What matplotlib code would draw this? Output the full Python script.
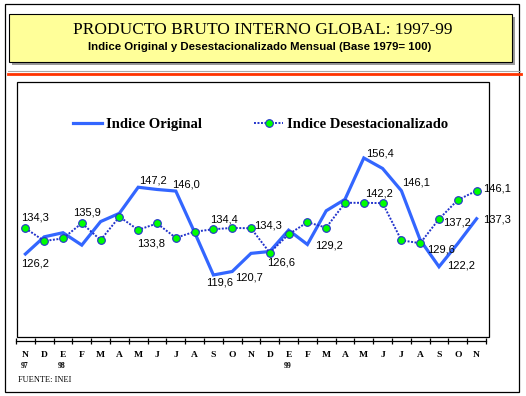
import matplotlib
matplotlib.use("Agg")
import matplotlib.pyplot as plt
from matplotlib.patches import Rectangle
from matplotlib.lines import Line2D

# meses nov-97 .. nov-99
meses = ["N", "D", "E", "F", "M", "A", "M", "J", "J", "A", "S", "O",
         "N", "D", "E", "F", "M", "A", "M", "J", "J", "A", "S", "O", "N"]
anios = {0: "97", 2: "98", 14: "99"}

original = [126.2, 131.6, 132.9, 129.0, 136.4, 139.0, 147.2, 146.5, 146.0,
            133.0, 119.6, 120.7, 126.4, 127.0, 133.7, 129.2, 139.8, 143.4,
            156.4, 153.1, 146.1, 130.6, 122.2, 129.5, 137.3]
desest = [134.3, 130.3, 131.1, 135.9, 130.6, 137.9, 133.8, 135.8, 131.3,
          133.2, 134.0, 134.4, 134.3, 126.6, 132.4, 136.2, 134.5, 142.3,
          142.3, 142.2, 130.5, 129.6, 137.2, 143.2, 146.1]

# etiquetas: (indice, dx, dy) en pixeles
etq_orig = [(0, 10, -9), (6, 15, 7), (8, 10, 7), (10, 6, -8), (11, 17, -6),
            (15, 22, -1), (18, 16, 4), (20, 15, 8), (22, 22, 1), (24, 20, -1)]
etq_des = [(0, 10, 11), (3, 5, 11), (6, 13, -14), (11, -8, 8), (12, 17, 3),
           (13, 11, -10), (19, -4, 10), (21, 21, -6), (22, 18, -3), (24, 20, 2)]

W, H = 526, 396
fig = plt.figure(figsize=(W / 100, H / 100), dpi=100)


def fx(x):
    return x / W


def fy(y):
    return 1 - y / H


def rect(x0, y0, x1, y1, **kw):
    fig.patches.append(Rectangle((fx(x0), fy(y1)), fx(x1) - fx(x0), fy(y0) - fy(y1),
                                 transform=fig.transFigure, **kw))


def hline(x0, x1, y, **kw):
    fig.lines.append(Line2D([fx(x0), fx(x1)], [fy(y), fy(y)],
                            transform=fig.transFigure, **kw))


# marco exterior
rect(4.5, 4, 519, 391.5, fill=False, edgecolor="black", lw=0.9)
# caja del titulo con sombra
rect(12, 17, 515, 65, facecolor="#9a9a9a", edgecolor="none")
rect(9, 14, 512, 62, facecolor="#FFFF99", edgecolor="black", lw=0.8)
hline(8, 520, 70.5, color="#a8a8a8", lw=0.8)
hline(8, 521, 73.5, color="#FF3300", lw=2.0)
# caja del grafico
rect(17, 82, 489, 337, fill=False, edgecolor="black", lw=0.9)

fig.text(fx(263), fy(30), "PRODUCTO BRUTO INTERNO GLOBAL: 1997-99",
         family="Liberation Serif", fontsize=12.5, ha="center", va="center")
fig.text(fx(260), fy(46.5), "Indice Original y Desestacionalizado Mensual (Base 1979= 100)",
         family="Liberation Sans", fontweight="bold", fontsize=8.2,
         ha="center", va="center")

ax = fig.add_axes([fx(16), fy(341), fx(486) - fx(16), fy(82) - fy(341)])
x = list(range(len(meses)))
l1, = ax.plot(x, original, color="#3366FF", lw=2.3, solid_joinstyle="miter")
l2, = ax.plot(x, desest, color="#2233CC", lw=1.4, ls=(0, (1, 0.8)),
              marker="o", ms=5.5, mfc="#00FF00", mec="#2233CC", mew=0.8)

ax.set_xlim(-0.5, len(meses) - 0.5)
ax.set_ylim(98.84, 180.3)
for s in ["top", "left", "right"]:
    ax.spines[s].set_visible(False)
ax.spines["bottom"].set_linewidth(0.9)
ax.set_yticks([])
ax.set_xticks(x)
ax.set_xticklabels(meses, family="Liberation Serif", fontweight="bold", fontsize=6.8)
ax.set_xticks([i - 0.5 for i in range(len(meses) + 1)], minor=True)
ax.tick_params(axis="x", which="major", length=0, pad=7)
ax.tick_params(axis="x", which="minor", direction="inout", length=4, width=0.9)

for i, a in anios.items():
    ax.annotate(a, xy=(i, 0), xycoords=("data", "axes fraction"),
                xytext=(-1, -24.7), textcoords="offset pixels",
                ha="center", va="center", family="Liberation Serif",
                fontweight="bold", fontsize=5.5, annotation_clip=False)
fig.text(fx(18), fy(380), "FUENTE: INEI", family="Liberation Serif",
         fontsize=6, ha="left", va="center")


def coma(v):
    return f"{v:.1f}".replace(".", ",")


for serie, etqs in [(original, etq_orig), (desest, etq_des)]:
    for i, dx, dy in etqs:
        ax.annotate(coma(serie[i]), xy=(i, serie[i]), xytext=(dx, dy),
                    textcoords="offset pixels", ha="center", va="center",
                    family="Liberation Sans", fontsize=8, annotation_clip=False)

ax.legend([l1, l2], ["Indice Original", "Indice Desestacionalizado"],
          ncol=2, frameon=False, loc="center left",
          bbox_to_anchor=(fx(73), fy(124)), bbox_transform=fig.transFigure,
          borderpad=0, borderaxespad=0, handlelength=2.0, handletextpad=0.25,
          columnspacing=3.6, markerscale=1.0,
          prop={"family": "Liberation Serif", "weight": "bold", "size": 10.5})

fig.savefig("out.png", dpi=100)
